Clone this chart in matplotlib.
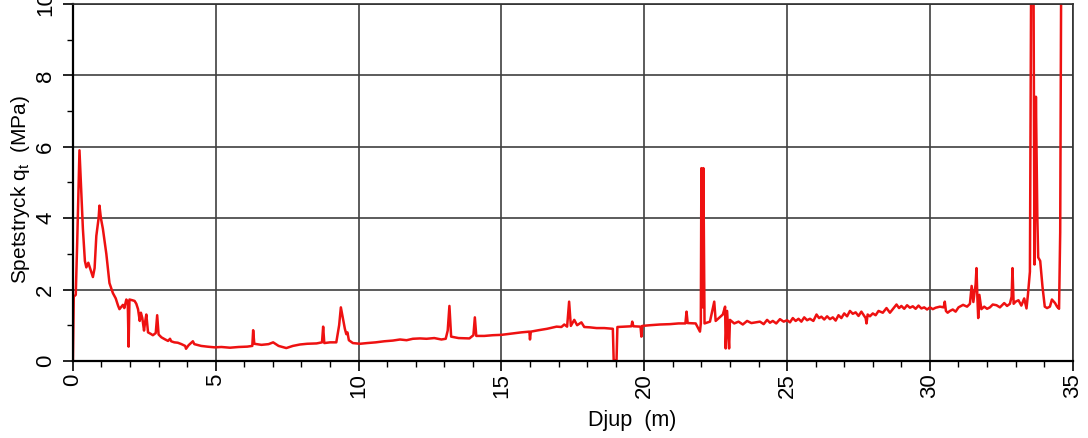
import matplotlib
matplotlib.use("Agg")
import matplotlib.pyplot as plt
from matplotlib.ticker import MultipleLocator

# CPT sounding: cone resistance vs depth

depth = [
    0.00, 0.03, 0.10, 0.15, 0.23, 0.28, 0.35, 0.42, 0.47, 0.54, 0.60, 0.66, 0.70, 0.76,
    0.82, 0.90, 0.93, 0.98, 1.05, 1.17, 1.28, 1.40, 1.50, 1.58, 1.63, 1.70, 1.75, 1.80,
    1.87, 1.92, 1.95, 1.98, 2.08, 2.16, 2.22, 2.28, 2.34, 2.38, 2.43, 2.49, 2.53, 2.57,
    2.63, 2.72, 2.80, 2.90, 2.95, 3.00, 3.10, 3.21, 3.33, 3.40, 3.44, 3.55, 3.67, 3.80,
    3.93, 3.96, 4.05, 4.20, 4.25, 4.35, 4.49, 4.70, 4.96,
    5.20, 5.50, 5.80, 6.10, 6.28, 6.31, 6.35, 6.60, 6.85, 7.01, 7.20, 7.47, 7.70, 7.95,
    8.20, 8.53, 8.72, 8.76, 8.80, 9.00, 9.22, 9.32, 9.38, 9.45, 9.52, 9.57, 9.61, 9.66,
    9.80, 10.05, 10.30, 10.60, 10.90, 11.20, 11.45, 11.68, 11.90, 12.15, 12.38, 12.65,
    12.90, 13.05, 13.12, 13.18, 13.24, 13.50, 13.88, 14.02, 14.07, 14.12, 14.40, 14.70,
    15.00, 15.30, 15.70, 15.98, 16.00, 16.03, 16.30, 16.60, 16.93, 17.10, 17.20, 17.30,
    17.37, 17.43, 17.55, 17.65, 17.80, 17.90, 18.10, 18.33, 18.60, 18.90, 18.93, 19.03,
    19.06, 19.30, 19.55, 19.58, 19.62, 19.87, 19.90, 19.93, 20.20, 20.55, 20.90, 21.20,
    21.44, 21.48, 21.52, 21.80, 21.95, 21.98, 22.00, 22.04, 22.07, 22.11, 22.30, 22.45,
    22.50, 22.75, 22.83, 22.85, 22.90, 22.97, 23.00, 23.15, 23.30, 23.45, 23.60, 23.75,
    23.90, 24.05, 24.18, 24.30, 24.40, 24.50, 24.62, 24.75, 24.88, 25.00, 25.10, 25.20,
    25.30, 25.40, 25.50, 25.60, 25.70, 25.80, 25.92, 26.03, 26.12, 26.20, 26.30, 26.40,
    26.50, 26.60, 26.70, 26.80, 26.90, 27.00, 27.10, 27.20, 27.30, 27.40, 27.50, 27.60,
    27.75, 27.78, 27.82, 27.90, 28.00, 28.10, 28.20, 28.35, 28.48, 28.60, 28.70, 28.83,
    28.92, 29.00, 29.10, 29.20, 29.30, 29.40, 29.50, 29.60, 29.70, 29.80, 29.90, 30.00,
    30.10, 30.20, 30.35, 30.48, 30.52, 30.56, 30.62, 30.70, 30.80, 30.90, 31.00, 31.16,
    31.30, 31.40, 31.46, 31.52, 31.60, 31.63, 31.66, 31.69, 31.73, 31.80, 31.90, 32.00,
    32.10, 32.20, 32.33, 32.45, 32.60, 32.70, 32.80, 32.86, 32.89, 32.93, 33.00, 33.10,
    33.20, 33.30, 33.38, 33.43, 33.50, 33.55, 33.62, 33.66, 33.71, 33.76, 33.79, 33.86,
    33.94, 34.02, 34.10, 34.20, 34.27, 34.38, 34.45, 34.52, 34.56, 34.60,
]
qt = [
    0.00, 1.80, 1.85, 3.30, 5.90, 5.00, 3.70, 2.80, 2.62, 2.75, 2.60, 2.45, 2.35, 2.60,
    3.50, 4.00, 4.35, 4.00, 3.70, 3.00, 2.18, 1.90, 1.75, 1.55, 1.45, 1.52, 1.57, 1.48,
    1.72, 1.65, 0.40, 1.72, 1.70, 1.68, 1.60, 1.45, 1.12, 1.35, 1.20, 0.85, 1.10, 1.30,
    0.80, 0.76, 0.72, 0.78, 1.28, 0.74, 0.66, 0.61, 0.56, 0.62, 0.55, 0.52, 0.51, 0.47,
    0.42, 0.34, 0.44, 0.55, 0.47, 0.45, 0.42, 0.40, 0.38,
    0.39, 0.37, 0.39, 0.40, 0.42, 0.86, 0.48, 0.45, 0.47, 0.52, 0.42, 0.36, 0.42, 0.46,
    0.48, 0.49, 0.52, 0.96, 0.50, 0.52, 0.52, 1.00, 1.50, 1.20, 0.90, 0.75, 0.80, 0.58,
    0.50, 0.48, 0.50, 0.52, 0.55, 0.57, 0.60, 0.58, 0.62, 0.63, 0.62, 0.64,
    0.60, 0.62, 0.85, 1.54, 0.68, 0.64, 0.63, 0.72, 1.22, 0.70, 0.70, 0.72,
    0.73, 0.76, 0.80, 0.82, 0.60, 0.82, 0.86, 0.90, 0.96, 0.95, 1.02, 0.96,
    1.66, 0.98, 1.15, 1.00, 1.08, 0.95, 0.94, 0.92, 0.92, 0.90, 0.02, 0.02,
    0.95, 0.96, 0.97, 1.10, 0.97, 0.96, 0.68, 0.98, 1.00, 1.02, 1.03, 1.05,
    1.05, 1.38, 1.06, 1.05, 0.82, 1.05, 5.40, 1.50, 5.40, 1.05, 1.10, 1.66,
    1.12, 1.30, 1.52, 0.35, 1.40, 0.35, 1.15, 1.05, 1.10, 1.02, 1.12, 1.06,
    1.08, 1.10, 1.03, 1.15, 1.07, 1.12, 1.05, 1.17, 1.10, 1.14, 1.08, 1.20,
    1.12, 1.18, 1.10, 1.22, 1.14, 1.18, 1.12, 1.30, 1.20, 1.24, 1.16, 1.25,
    1.17, 1.22, 1.13, 1.28, 1.20, 1.33, 1.25, 1.40, 1.32, 1.36, 1.26, 1.38,
    1.20, 1.05, 1.30, 1.25, 1.33, 1.28, 1.40, 1.35, 1.48, 1.35, 1.45, 1.58,
    1.48, 1.54, 1.46, 1.56, 1.49, 1.53, 1.46, 1.55, 1.47, 1.50, 1.44, 1.50,
    1.45, 1.49, 1.52, 1.50, 1.66, 1.40, 1.35, 1.40, 1.44, 1.38, 1.50, 1.57,
    1.52, 1.60, 2.10, 1.65, 2.15, 2.60, 1.80, 1.20, 1.85, 1.45, 1.52, 1.46,
    1.50, 1.58, 1.56, 1.50, 1.62, 1.54, 1.60, 1.80, 2.60, 1.60, 1.66, 1.70,
    1.55, 1.75, 1.47, 1.85, 2.50, 12.0, 12.0, 2.70, 7.40, 4.00, 2.90, 2.80,
    2.08, 1.52, 1.48, 1.52, 1.72, 1.62, 1.52, 1.46, 3.60, 12.0,
]

x_ticks = [0, 5, 10, 15, 20, 25, 30, 35]
y_ticks = [0, 2, 4, 6, 8, 10]

plt.rcParams['font.family'] = ['Liberation Sans', 'DejaVu Sans']

fig = plt.figure(figsize=(10.88, 4.38), dpi=100)
ax = fig.add_axes([0.067, 0.176, 0.919, 0.815])

ax.plot(depth, qt, color='#ee1111', linewidth=1.8)

ax.set_xlim(0, 35)
ax.set_ylim(0, 10)
ax.set_xticks(x_ticks)
ax.set_yticks(y_ticks)
ax.xaxis.set_minor_locator(MultipleLocator(1))
ax.yaxis.set_minor_locator(MultipleLocator(1))
ax.grid(True, which='major', color='#404040', linewidth=1.2)
ax.set_axisbelow(True)

ax.tick_params(which='major', length=7, width=1.2, labelsize=16, direction='out')
ax.tick_params(which='minor', length=4.5, width=1.0, direction='out')
ax.tick_params(axis='x', labelrotation=90, pad=2)
ax.tick_params(axis='y', labelrotation=90, pad=5)
for lab in ax.get_yticklabels():
    lab.set_va('center')

for side in ['left', 'bottom']:
    ax.spines[side].set_linewidth(1.6)
for side in ['top', 'right']:
    ax.spines[side].set_linewidth(1.2)
    ax.spines[side].set_color('#303030')

ax.set_xlabel('Djup  (m)', fontsize=15.5)
ax.set_ylabel('Spetstryck q$_\\mathregular{t}$  (MPa)', fontsize=15)
ax.xaxis.set_label_coords(0.559, -0.138)
ax.yaxis.set_label_coords(-0.041, 0.479)

fig.savefig('out.png', dpi=100)
